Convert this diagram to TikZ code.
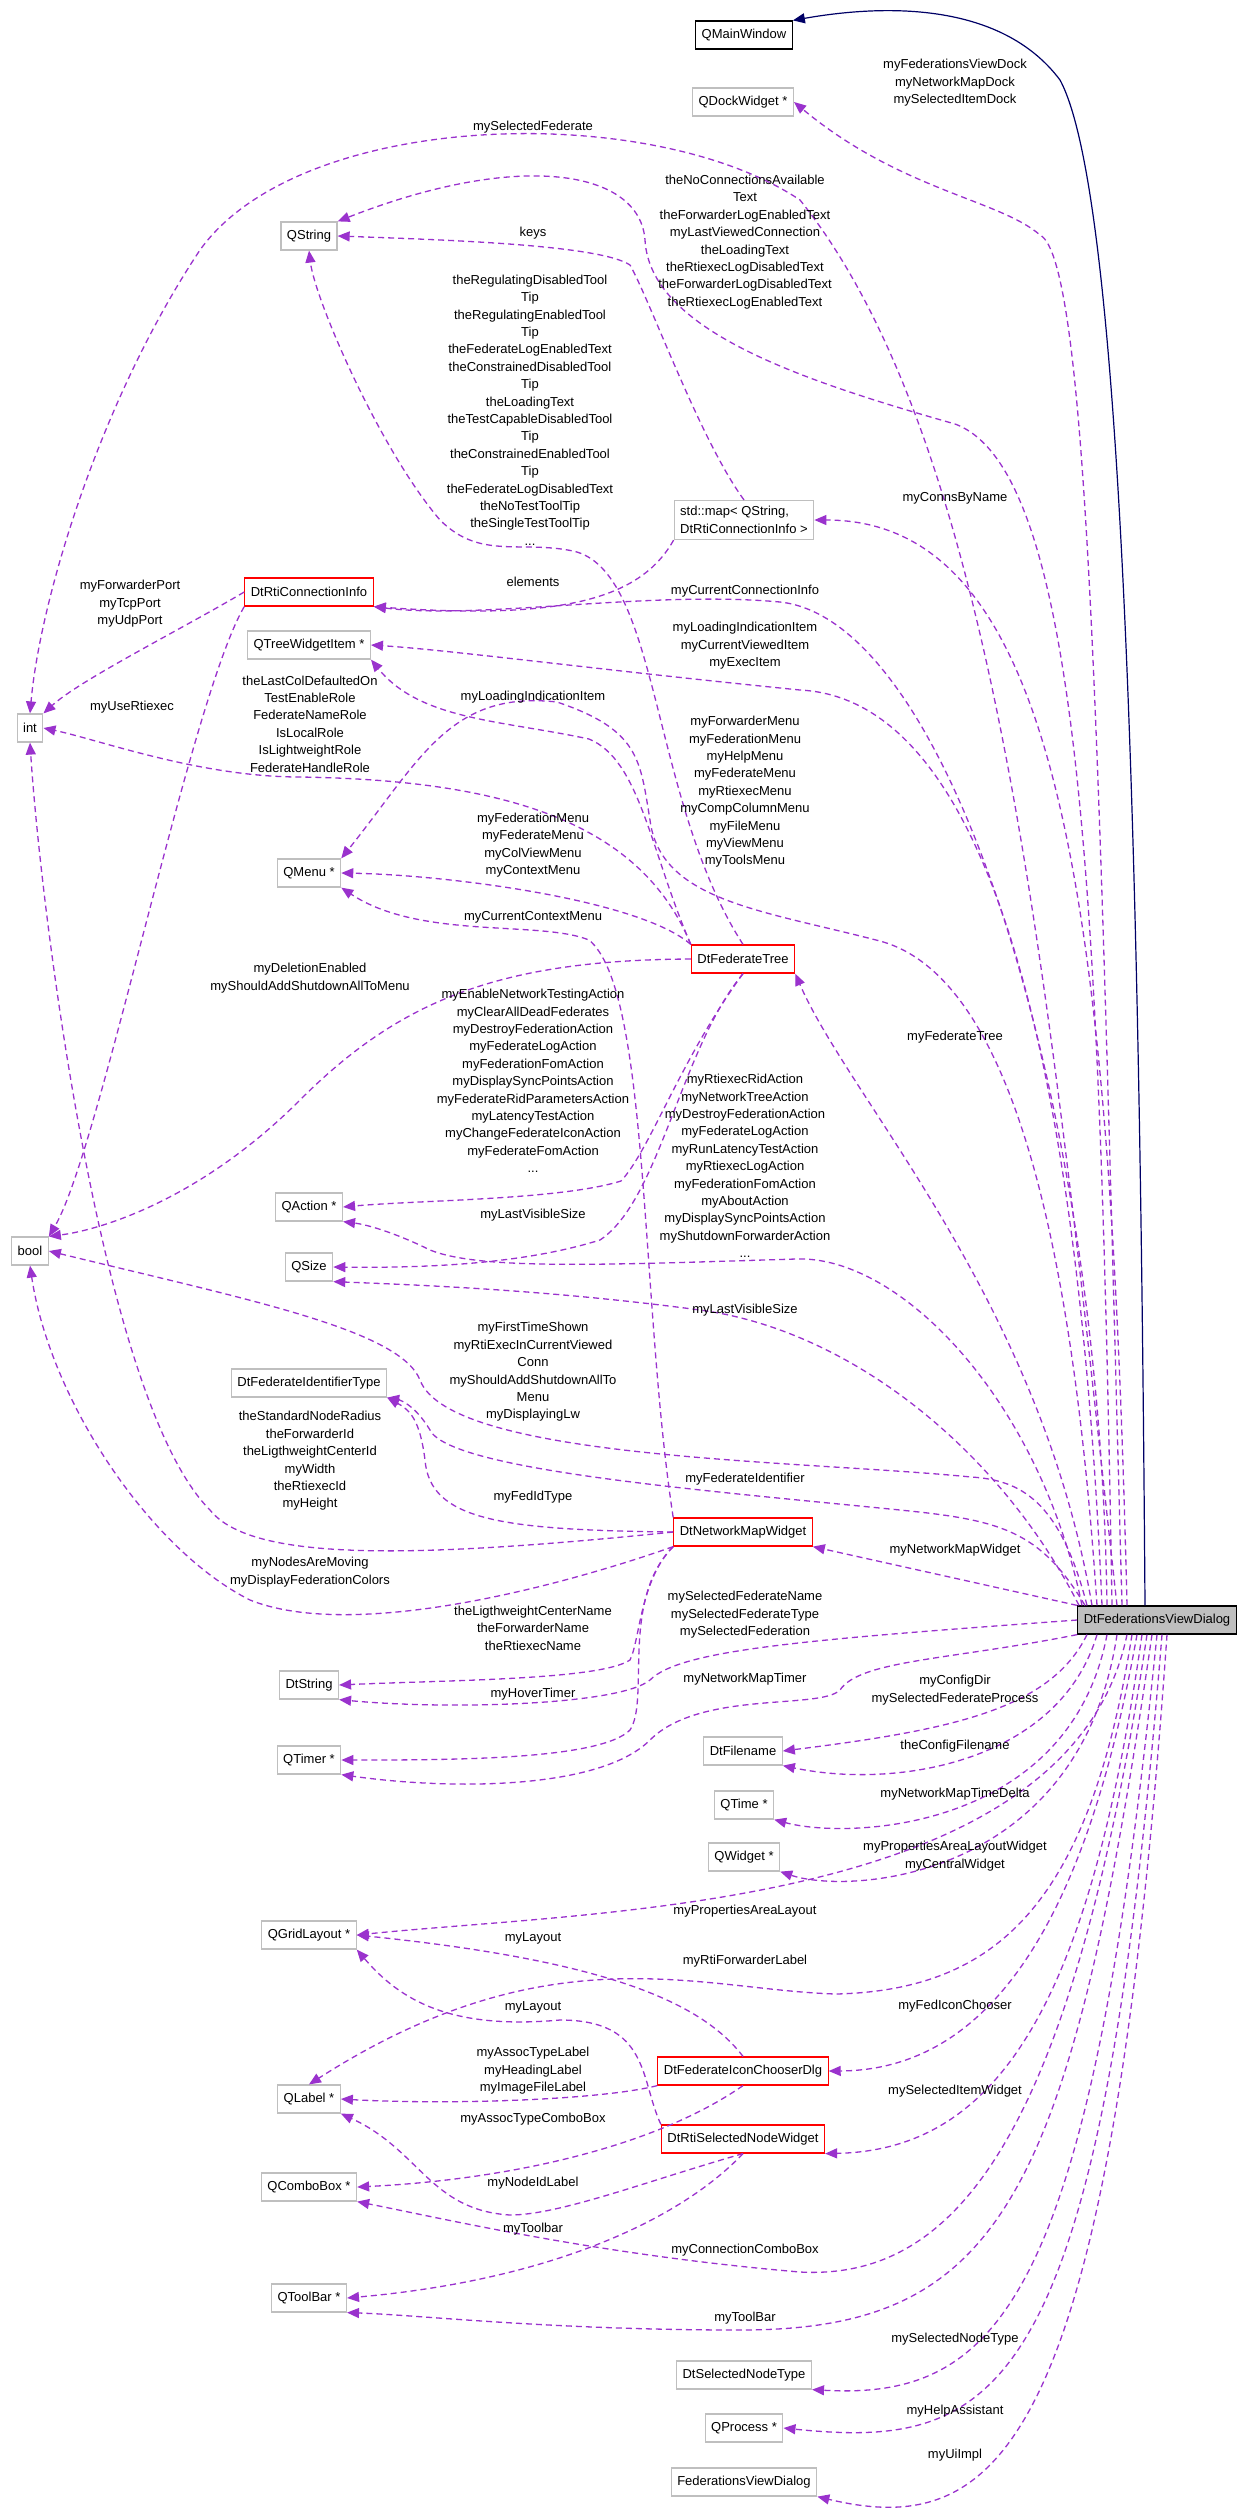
\documentclass[tikz,border=0pt]{standalone}
\usepackage{fontspec}
\setmainfont{Liberation Sans}
\usetikzlibrary{arrows.meta}

\definecolor{depcol}{HTML}{9A32CD}
\definecolor{boxgray}{HTML}{BFBFBF}

\tikzset{
 ClassStyle/.style = {draw=boxgray, line width=1.2pt, fill=white, inner sep=6pt,
   minimum height=28pt, font=\fontsize{13}{17.4}\selectfont},
 RedClassStyle/.style = {ClassStyle, draw=red},
 DepStyle/.style = {draw=depcol, line width=1.3pt, dash pattern=on 6pt off 4pt,
   -{Triangle[length=12pt,width=10pt]}},
 LabelStyle/.style = {align=center, inner sep=0pt, font=\fontsize{13}{17.4}\selectfont}
}

\begin{document}
\begin{tikzpicture}[x=1pt,y=-1pt]
\useasboundingbox (0,0) rectangle (1248,2517);

% classes
\node[ClassStyle, draw=black] (QMainWindow) at (744,35) {QMainWindow};
\node[ClassStyle] (QDockWidget) at (743,102) {QDockWidget *};
\node[ClassStyle] (QString) at (309,236) {QString};
\node[ClassStyle, align=left] (StdMap) at (744,520) {std::map< QString,\\ DtRtiConnectionInfo >};
\node[RedClassStyle] (DtRtiConnectionInfo) at (309,592) {DtRtiConnectionInfo};
\node[ClassStyle] (QTreeWidgetItem) at (309,645) {QTreeWidgetItem *};
\node[ClassStyle] (Int) at (30,728) {int};
\node[ClassStyle] (QMenu) at (309,873) {QMenu *};
\node[RedClassStyle] (DtFederateTree) at (743,959) {DtFederateTree};
\node[ClassStyle] (QAction) at (309,1207) {QAction *};
\node[ClassStyle] (Bool) at (30,1251) {bool};
\node[ClassStyle] (QSize) at (309,1267) {QSize};
\node[ClassStyle] (DtFederateIdentifierType) at (309,1383) {DtFederateIdentifierType};
\node[RedClassStyle] (DtNetworkMapWidget) at (743,1532) {DtNetworkMapWidget};
\node[ClassStyle, draw=black, fill=boxgray] (Dialog) at (1157,1620) {DtFederationsViewDialog};
\node[ClassStyle] (DtString) at (309,1685) {DtString};
\node[ClassStyle] (QTimer) at (309,1760) {QTimer *};
\node[ClassStyle] (DtFilename) at (743,1751) {DtFilename};
\node[ClassStyle] (QTime) at (744,1805) {QTime *};
\node[ClassStyle] (QWidget) at (744,1857) {QWidget *};
\node[ClassStyle] (QGridLayout) at (309,1935) {QGridLayout *};
\node[RedClassStyle] (IconChooser) at (743,2071) {DtFederateIconChooserDlg};
\node[ClassStyle] (QLabel) at (309,2099) {QLabel *};
\node[RedClassStyle] (SelNodeWidget) at (743,2139) {DtRtiSelectedNodeWidget};
\node[ClassStyle] (QComboBox) at (309,2187) {QComboBox *};
\node[ClassStyle] (QToolBar) at (309,2298) {QToolBar *};
\node[ClassStyle] (DtSelectedNodeType) at (744,2375) {DtSelectedNodeType};
\node[ClassStyle] (QProcess) at (744,2428) {QProcess *};
\node[ClassStyle] (FedViewDialog) at (744,2482) {FederationsViewDialog};

% inheritance
\draw[draw=blue!40!black, line width=1.2pt, -{Triangle[length=12pt,width=10pt]}]
  ([xshift=-12pt]Dialog.north) .. controls (1140,900) and (1125,200) .. (1060,80)
  .. controls (1000,0) and (880,5) .. (QMainWindow.north east);

% usage from the dialog
\draw[DepStyle] ([xshift=-35pt]Dialog.north) .. controls (1100,800) and (1090,260) .. (1040,235)
  .. controls (1000,200) and (900,190) .. (QDockWidget.east);
\draw[DepStyle] ([xshift=-40pt]Dialog.north) .. controls (1050,1000) and (1000,450) .. (800,200)
  .. controls (650,100) and (300,110) .. (200,250) .. controls (100,400) and (40,600) .. (Int.north);
\draw[DepStyle] ([xshift=-45pt]Dialog.north) .. controls (1100,900) and (1080,470) .. (955,424)
  .. controls (800,380) and (650,330) .. (645,240) .. controls (640,170) and (520,150) .. (QString.north east);
\draw[DepStyle] ([xshift=-30pt]Dialog.north) .. controls (1110,900) and (1060,520) .. (StdMap.east);
\draw[DepStyle] ([xshift=-50pt]Dialog.north) .. controls (1100,1100) and (950,620) .. (780,602)
  .. controls (650,590) and (480,620) .. (DtRtiConnectionInfo.south east);
\draw[DepStyle] ([xshift=-55pt]Dialog.north) .. controls (1080,1100) and (1000,700) .. (800,690)
  .. controls (600,670) and (450,650) .. (QTreeWidgetItem.east);
\draw[DepStyle] ([xshift=-60pt]Dialog.north) .. controls (1070,1200) and (1000,969) .. (876,940)
  .. controls (760,910) and (660,900) .. (650,820) .. controls (640,760) and (640,730) .. (557,702)
  .. controls (450,690) and (420,760) .. (QMenu.north east);
\draw[DepStyle] ([xshift=-65pt]Dialog.north) .. controls (1040,1300) and (850,1100) .. (DtFederateTree.south east);
\draw[DepStyle] ([xshift=-70pt]Dialog.north) .. controls (1060,1500) and (1020,1480) .. (971,1477)
  .. controls (800,1460) and (450,1460) .. (420,1380) .. controls (400,1330) and (250,1300) .. (Bool.east);
\draw[DepStyle] ([xshift=-75pt]Dialog.north) .. controls (1040,1400) and (900,1255) .. (796,1259)
  .. controls (600,1265) and (480,1270) .. (430,1250) .. controls (400,1235) and (370,1225) .. (QAction.south east);
\draw[DepStyle] ([xshift=-78pt]Dialog.north) .. controls (1000,1450) and (850,1330) .. (700,1310)
  .. controls (550,1290) and (420,1285) .. (QSize.south east);
\draw[DepStyle] ([xshift=-72pt]Dialog.north) .. controls (1040,1530) and (1000,1520) .. (900,1510)
  .. controls (700,1490) and (450,1470) .. (430,1430) .. controls (415,1405) and (400,1400) .. (DtFederateIdentifierType.south east);
\draw[DepStyle] (Dialog.north west) -- (DtNetworkMapWidget.south east);
\draw[DepStyle] (Dialog.west) .. controls (800,1640) and (680,1650) .. (650,1680)
  .. controls (620,1705) and (450,1710) .. (DtString.south east);
\draw[DepStyle] (Dialog.south west) .. controls (950,1660) and (860,1660) .. (840,1690)
  .. controls (820,1710) and (700,1690) .. (650,1740) .. controls (600,1790) and (450,1790) .. (QTimer.south east);
\draw[DepStyle] ([xshift=-70pt]Dialog.south) .. controls (1050,1710) and (950,1730) .. (DtFilename.east);
\draw[DepStyle] ([xshift=-60pt]Dialog.south) .. controls (1060,1760) and (900,1790) .. (DtFilename.south east);
\draw[DepStyle] ([xshift=-50pt]Dialog.south) .. controls (1070,1830) and (850,1840) .. (QTime.south east);
\draw[DepStyle] ([xshift=-40pt]Dialog.south) .. controls (1080,1880) and (850,1895) .. (QWidget.south east);
\draw[DepStyle] ([xshift=-30pt]Dialog.south) .. controls (1070,1910) and (600,1910) .. (QGridLayout.east);
\draw[DepStyle] ([xshift=-25pt]Dialog.south) .. controls (1090,1900) and (1000,1990) .. (836,1994)
  .. controls (700,1990) and (550,1930) .. (QLabel.north);
\draw[DepStyle] ([xshift=-20pt]Dialog.south) .. controls (1090,1900) and (1000,2070) .. (IconChooser.east);
\draw[DepStyle] ([xshift=-15pt]Dialog.south) .. controls (1090,2000) and (1000,2150) .. (SelNodeWidget.south east);
\draw[DepStyle] ([xshift=-10pt]Dialog.south) .. controls (1070,2150) and (950,2280) .. (800,2272)
  .. controls (600,2255) and (450,2220) .. (QComboBox.south east);
\draw[DepStyle] ([xshift=-5pt]Dialog.south) .. controls (1070,2200) and (1000,2330) .. (740,2330)
  .. controls (550,2330) and (420,2315) .. (QToolBar.south east);
\draw[DepStyle] (Dialog.south) .. controls (1090,2300) and (1000,2400) .. (DtSelectedNodeType.south east);
\draw[DepStyle] ([xshift=5pt]Dialog.south) .. controls (1100,2400) and (1000,2450) .. (QProcess.east);
\draw[DepStyle] ([xshift=10pt]Dialog.south) .. controls (1110,2450) and (1000,2540) .. (FedViewDialog.south east);

% usage between the other classes
\draw[DepStyle] (StdMap.north) .. controls (700,440) and (650,300) .. (630,265)
  .. controls (600,245) and (450,240) .. (QString.east);
\draw[DepStyle] (StdMap.south west) .. controls (640,600) and (560,620) .. (DtRtiConnectionInfo.south east);
\draw[DepStyle] (DtFederateTree.north) .. controls (650,800) and (660,570) .. (573,551)
  .. controls (520,540) and (480,560) .. (440,520) .. controls (380,450) and (315,300) .. (QString.south);
\draw[DepStyle] (DtFederateTree.north west) .. controls (650,850) and (640,760) .. (589,739)
  .. controls (500,720) and (420,720) .. (QTreeWidgetItem.south east);
\draw[DepStyle] (DtRtiConnectionInfo.west) .. controls (180,630) and (80,680) .. (Int.north east);
\draw[DepStyle] (DtRtiConnectionInfo.south west) .. controls (190,700) and (100,1150) .. (Bool.north east);
\draw[DepStyle] (DtFederateTree.north west) .. controls (640,820) and (500,780) .. (300,777)
  .. controls (200,777) and (100,740) .. (Int.east);
\draw[DepStyle] (DtNetworkMapWidget.west) .. controls (400,1560) and (250,1560) .. (210,1510)
  .. controls (100,1400) and (40,900) .. (Int.south);
\draw[DepStyle] (DtFederateTree.north west) .. controls (640,900) and (450,875) .. (QMenu.east);
\draw[DepStyle] (DtNetworkMapWidget.north west) .. controls (640,1300) and (650,990) .. (589,940)
  .. controls (540,920) and (420,940) .. (QMenu.south east);
\draw[DepStyle] (DtFederateTree.west) .. controls (500,960) and (400,1000) .. (300,1100)
  .. controls (200,1200) and (100,1230) .. (Bool.north east);
\draw[DepStyle] (DtNetworkMapWidget.south west) .. controls (550,1590) and (350,1640) .. (250,1600)
  .. controls (150,1550) and (50,1400) .. (Bool.south);
\draw[DepStyle] (DtFederateTree.south) .. controls (680,1060) and (650,1150) .. (621,1181)
  .. controls (560,1200) and (420,1200) .. (QAction.east);
\draw[DepStyle] (DtFederateTree.south) .. controls (680,1050) and (660,1200) .. (600,1240)
  .. controls (520,1265) and (420,1268) .. (QSize.east);
\draw[DepStyle] (DtNetworkMapWidget.west) .. controls (500,1530) and (430,1520) .. (425,1460)
  .. controls (420,1420) and (410,1410) .. (DtFederateIdentifierType.south east);
\draw[DepStyle] (DtNetworkMapWidget.south west) .. controls (640,1580) and (640,1640) .. (630,1660)
  .. controls (600,1680) and (450,1680) .. (DtString.east);
\draw[DepStyle] (DtNetworkMapWidget.south west) .. controls (620,1600) and (650,1700) .. (630,1730)
  .. controls (600,1760) and (450,1760) .. (QTimer.east);
\draw[DepStyle] (IconChooser.north) .. controls (700,2000) and (600,1960) .. (QGridLayout.east);
\draw[DepStyle] (SelNodeWidget.north west) .. controls (640,2080) and (650,2020) .. (560,2020)
  .. controls (450,2030) and (400,2000) .. (QGridLayout.south east);
\draw[DepStyle] (IconChooser.south west) .. controls (600,2100) and (450,2105) .. (QLabel.east);
\draw[DepStyle] (SelNodeWidget.south) .. controls (650,2180) and (560,2215) .. (510,2215)
  .. controls (430,2210) and (420,2150) .. (QLabel.south east);
\draw[DepStyle] (IconChooser.south) .. controls (650,2150) and (500,2180) .. (QComboBox.east);
\draw[DepStyle] (SelNodeWidget.south) .. controls (680,2220) and (550,2280) .. (QToolBar.east);

% labels
\node[LabelStyle] (lDock) at (955,83) {myFederationsViewDock\\myNetworkMapDock\\mySelectedItemDock};
\node[LabelStyle] (lSelFed) at (533,127) {mySelectedFederate};
\node[LabelStyle] (lNoConn) at (745,242) {theNoConnectionsAvailable\\Text\\theForwarderLogEnabledText\\myLastViewedConnection\\theLoadingText\\theRtiexecLogDisabledText\\theForwarderLogDisabledText\\theRtiexecLogEnabledText};
\node[LabelStyle] (lKeys) at (533,233) {keys};
\node[LabelStyle] (lRegul) at (530,410) {theRegulatingDisabledTool\\Tip\\theRegulatingEnabledTool\\Tip\\theFederateLogEnabledText\\theConstrainedDisabledTool\\Tip\\theLoadingText\\theTestCapableDisabledTool\\Tip\\theConstrainedEnabledTool\\Tip\\theFederateLogDisabledText\\theNoTestToolTip\\theSingleTestToolTip\\...};
\node[LabelStyle] (lConns) at (955,498) {myConnsByName};
\node[LabelStyle] (lElem) at (533,582) {elements};
\node[LabelStyle] (lCurConn) at (745,591) {myCurrentConnectionInfo};
\node[LabelStyle] (lPorts) at (130,604) {myForwarderPort\\myTcpPort\\myUdpPort};
\node[LabelStyle] (lItems) at (745,646) {myLoadingIndicationItem\\myCurrentViewedItem\\myExecItem};
\node[LabelStyle] (lUseRti) at (132,707) {myUseRtiexec};
\node[LabelStyle] (lRoles) at (310,724) {theLastColDefaultedOn\\TestEnableRole\\FederateNameRole\\IsLocalRole\\IsLightweightRole\\FederateHandleRole};
\node[LabelStyle] (lLoadItem) at (533,697) {myLoadingIndicationItem};
\node[LabelStyle] (lMenus) at (745,792) {myForwarderMenu\\myFederationMenu\\myHelpMenu\\myFederateMenu\\myRtiexecMenu\\myCompColumnMenu\\myFileMenu\\myViewMenu\\myToolsMenu};
\node[LabelStyle] (lTreeMenus) at (533,845) {myFederationMenu\\myFederateMenu\\myColViewMenu\\myContextMenu};
\node[LabelStyle] (lCtxMenu) at (533,917) {myCurrentContextMenu};
\node[LabelStyle] (lDelete) at (310,978) {myDeletionEnabled\\myShouldAddShutdownAllToMenu};
\node[LabelStyle] (lTreeActions) at (533,1081) {myEnableNetworkTestingAction\\myClearAllDeadFederates\\myDestroyFederationAction\\myFederateLogAction\\myFederationFomAction\\myDisplaySyncPointsAction\\myFederateRidParametersAction\\myLatencyTestAction\\myChangeFederateIconAction\\myFederateFomAction\\...};
\node[LabelStyle] (lFedTree) at (955,1037) {myFederateTree};
\node[LabelStyle] (lActions) at (745,1166) {myRtiexecRidAction\\myNetworkTreeAction\\myDestroyFederationAction\\myFederateLogAction\\myRunLatencyTestAction\\myRtiexecLogAction\\myFederationFomAction\\myAboutAction\\myDisplaySyncPointsAction\\myShutdownForwarderAction\\...};
\node[LabelStyle] (lTreeSize) at (533,1215) {myLastVisibleSize};
\node[LabelStyle] (lSize) at (745,1310) {myLastVisibleSize};
\node[LabelStyle] (lFlags) at (533,1372) {myFirstTimeShown\\myRtiExecInCurrentViewed\\Conn\\myShouldAddShutdownAllTo\\Menu\\myDisplayingLw};
\node[LabelStyle] (lIds) at (310,1461) {theStandardNodeRadius\\theForwarderId\\theLigthweightCenterId\\myWidth\\theRtiexecId\\myHeight};
\node[LabelStyle] (lFedIdent) at (745,1479) {myFederateIdentifier};
\node[LabelStyle] (lFedIdType) at (533,1497) {myFedIdType};
\node[LabelStyle] (lNetMap) at (955,1550) {myNetworkMapWidget};
\node[LabelStyle] (lMoving) at (310,1572) {myNodesAreMoving\\myDisplayFederationColors};
\node[LabelStyle] (lSelNames) at (745,1615) {mySelectedFederateName\\mySelectedFederateType\\mySelectedFederation};
\node[LabelStyle] (lNames) at (533,1628) {theLigthweightCenterName\\theForwarderName\\theRtiexecName};
\node[LabelStyle] (lHover) at (533,1694) {myHoverTimer};
\node[LabelStyle] (lMapTimer) at (745,1679) {myNetworkMapTimer};
\node[LabelStyle] (lConfigDir) at (955,1690) {myConfigDir\\mySelectedFederateProcess};
\node[LabelStyle] (lConfigFile) at (955,1746) {theConfigFilename};
\node[LabelStyle] (lTimeDelta) at (955,1794) {myNetworkMapTimeDelta};
\node[LabelStyle] (lWidgets) at (955,1856) {myPropertiesAreaLayoutWidget\\myCentralWidget};
\node[LabelStyle] (lPropLayout) at (745,1911) {myPropertiesAreaLayout};
\node[LabelStyle] (lLayout1) at (533,1938) {myLayout};
\node[LabelStyle] (lFwdLabel) at (745,1961) {myRtiForwarderLabel};
\node[LabelStyle] (lIconChooser) at (955,2006) {myFedIconChooser};
\node[LabelStyle] (lLayout2) at (533,2007) {myLayout};
\node[LabelStyle] (lLabels) at (533,2071) {myAssocTypeLabel\\myHeadingLabel\\myImageFileLabel};
\node[LabelStyle] (lSelItem) at (955,2091) {mySelectedItemWidget};
\node[LabelStyle] (lAssocCombo) at (533,2119) {myAssocTypeComboBox};
\node[LabelStyle] (lNodeId) at (533,2183) {myNodeIdLabel};
\node[LabelStyle] (lToolbar1) at (533,2229) {myToolbar};
\node[LabelStyle] (lConnCombo) at (745,2250) {myConnectionComboBox};
\node[LabelStyle] (lToolbar2) at (745,2318) {myToolBar};
\node[LabelStyle] (lSelNode) at (955,2339) {mySelectedNodeType};
\node[LabelStyle] (lHelp) at (955,2411) {myHelpAssistant};
\node[LabelStyle] (lUiImpl) at (955,2455) {myUiImpl};

\end{tikzpicture}
\end{document}
